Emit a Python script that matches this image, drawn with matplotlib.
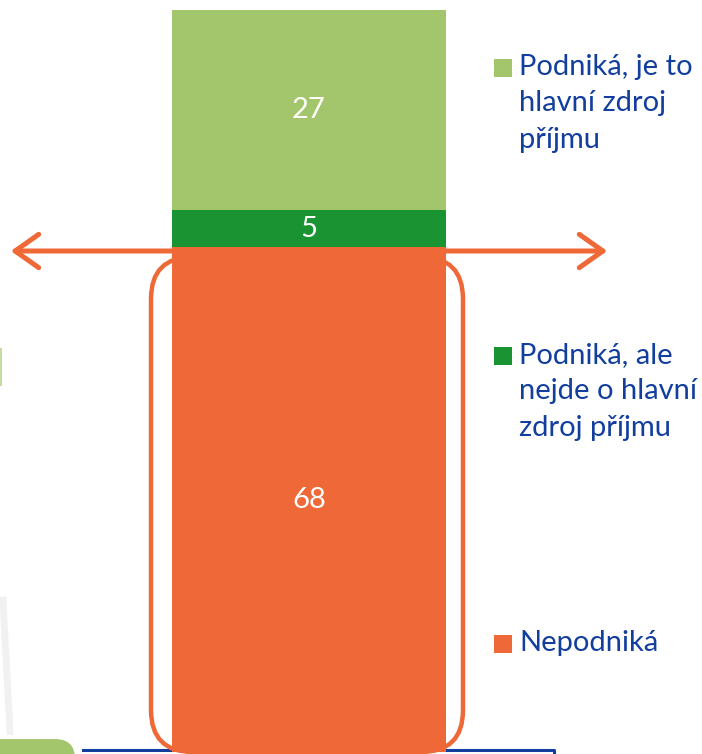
import matplotlib.pyplot as plt
from matplotlib.patches import FancyArrowPatch, FancyBboxPatch, Rectangle
from matplotlib.transforms import Affine2D

plt.rcParams['font.family'] = ['Lato', 'DejaVu Sans']

# data
categories = ['Nepodniká', 'Podniká, ale\nnejde o hlavní\nzdroj příjmu', 'Podniká, je to\nhlavní zdroj\npříjmu']
values = [68, 5, 27]
colors = ['#EE6937', '#1A9432', '#A3C56B']
text_blue = '#123E9E'

W, H = 702, 754
fig = plt.figure(figsize=(W / 100, H / 100), dpi=100)
ax = fig.add_axes([0, 0, 1, 1])
ax.set_xlim(-309 / 274, (W - 309) / 274)
ax.set_ylim(-2 / 7.42, 100 + 10 / 7.42)
ax.axis('off')

# pixel coords, origin top-left
pix = Affine2D().scale(1 / W, -1 / H).translate(0, 1) + fig.transFigure

# stacked bar
bottom = 0
for v, c in zip(values, colors):
    ax.bar(0, v, width=1, bottom=bottom, color=c, zorder=3)
    ax.text(0, bottom + v / 2, str(v), color='white', fontsize=21,
            ha='center', va='center', zorder=5)
    bottom += v

# background bits on the left / bottom
ax.add_patch(FancyBboxPatch((-40, 737), 117, 60, boxstyle='round,pad=0,rounding_size=22',
                            fc='#A3C56B', ec='white', lw=3, transform=pix, zorder=2,
                            clip_on=False))
ax.add_patch(Rectangle((-5, 348), 7, 38, fc='#C5DC9E', ec='none', transform=pix, zorder=2))
ax.plot([3, 10], [600, 733], color='#e4e4e4', lw=5, alpha=0.5, transform=pix, zorder=1)
ax.plot([83, 554, 554], [750, 750, 756], color=text_blue, lw=2.2, transform=pix,
        zorder=2, clip_on=False)

# rounded frame round the orange part
ax.add_patch(FancyBboxPatch((151, 257), 312, 495, boxstyle='round,pad=0,rounding_size=42',
                            fc='none', ec='#EE6937', lw=3.2, transform=pix, zorder=4))

# double arrow
ax.add_patch(FancyArrowPatch((8, 251), (610, 251), transform=pix,
                             arrowstyle='<->,head_length=0.85,head_width=0.6',
                             mutation_scale=20, color='#EE6937', lw=3.6,
                             capstyle='round', joinstyle='round', zorder=4))

# legend
legend_y = [644, 356, 68]
for lab, c, y in zip(categories, colors, legend_y):
    ax.add_patch(Rectangle((494, y - 9), 18, 18, fc=c, ec='none', transform=pix, zorder=5))
    ax.text(519, y - 14, lab, color=text_blue, fontsize=21, ha='left', va='top',
            linespacing=1.5, transform=pix, zorder=5)

fig.savefig('out.png', dpi=100)
